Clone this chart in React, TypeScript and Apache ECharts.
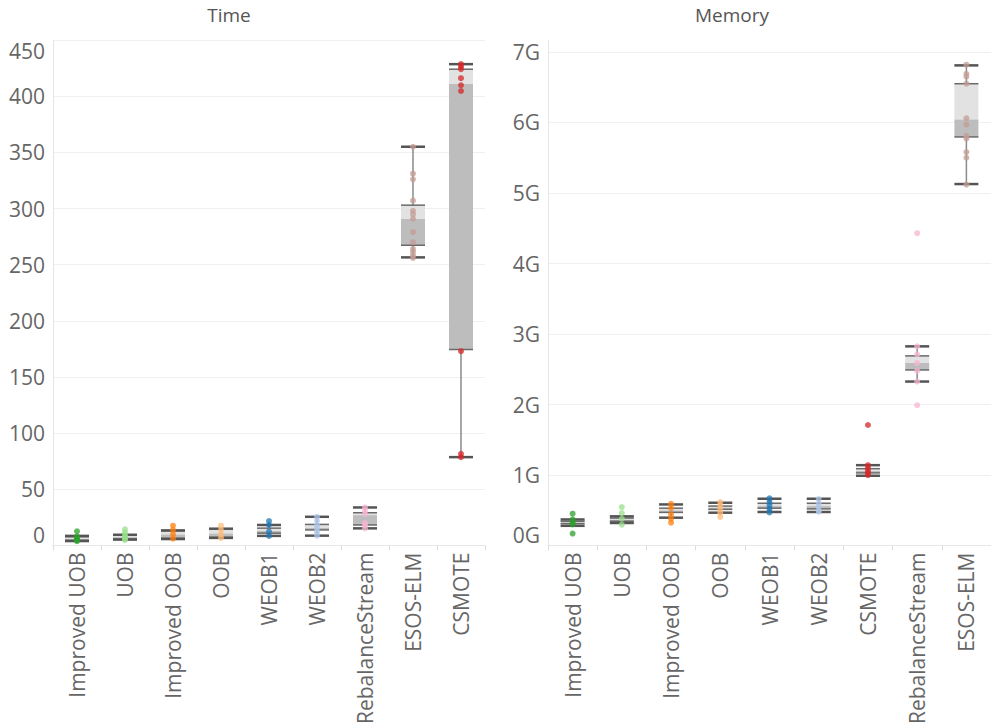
import React, { useEffect, useRef } from 'react';
import * as echarts from 'echarts';

const timeCategories = ['Improved UOB', 'UOB', 'Improved OOB', 'OOB', 'WEOB1', 'WEOB2', 'RebalanceStream', 'ESOS-ELM', 'CSMOTE'];
const memoryCategories = ['Improved UOB', 'UOB', 'Improved OOB', 'OOB', 'WEOB1', 'WEOB2', 'CSMOTE', 'RebalanceStream', 'ESOS-ELM'];

const methodColors: Record<string, string> = {
  'Improved UOB': '#2ca02c',
  'UOB': '#98df8a',
  'Improved OOB': '#ff7f0e',
  'OOB': '#ffbb78',
  'WEOB1': '#1f77b4',
  'WEOB2': '#aec7e8',
  'RebalanceStream': '#f7b6d2',
  'ESOS-ELM': '#c49c94',
  'CSMOTE': '#d62728',
};

// [min, q1, median, q3, max] per category (Time, seconds)
const timeBoxes = [
  [4.0, 4.6, 6.2, 7.8, 8.6],
  [5.3, 5.8, 7.5, 9.2, 9.6],
  [5.8, 6.5, 10.0, 13.0, 13.5],
  [6.8, 7.3, 10.9, 14.8, 15.0],
  [8.6, 11.0, 13.0, 15.5, 18.3],
  [8.8, 13.9, 16.0, 18.8, 25.6],
  [15.3, 18.3, 27.1, 29.2, 33.9],
  [256.5, 267.3, 291.0, 303.0, 355.0],
  [78.7, 174.5, 411.0, 424.0, 428.5],
];
const timePoints = [
  [12.7, 8.2, 6.5, 5.5, 4.8, 3.8],
  [14.4, 11.5, 9.0, 7.5, 6.0, 5.0],
  [17.7, 13.9, 10.0, 6.2],
  [17.7, 13.9, 10.0, 6.8],
  [21.8, 18.3, 12.4, 8.6],
  [25.6, 22.0, 18.0, 15.0, 12.0, 8.8],
  [33.9, 31.0, 28.0, 20.0, 18.0, 15.3],
  [355, 331, 326, 307, 298, 295, 291, 279, 270, 264, 261.5, 258.5, 256],
  [428.5, 426.5, 424, 416, 409.7, 404.6, 173, 81.6, 78.7],
];

// [min, q1, median, q3, max] per category (Memory, G)
const memoryBoxes = [
  [0.28, 0.31, 0.33, 0.345, 0.37],
  [0.32, 0.345, 0.37, 0.39, 0.414],
  [0.395, 0.47, 0.5, 0.53, 0.583],
  [0.466, 0.513, 0.54, 0.56, 0.607],
  [0.476, 0.53, 0.56, 0.6, 0.664],
  [0.476, 0.52, 0.56, 0.6, 0.664],
  [0.99, 1.03, 1.06, 1.09, 1.14],
  [2.326, 2.49, 2.594, 2.69, 2.825],
  [5.127, 5.795, 6.045, 6.55, 6.81],
];
const memoryPoints = [
  [0.452, 0.37, 0.33, 0.3, 0.17],
  [0.546, 0.46, 0.38, 0.297],
  [0.593, 0.53, 0.44, 0.38, 0.325],
  [0.617, 0.57, 0.52, 0.466, 0.405],
  [0.67, 0.62, 0.57, 0.52, 0.47],
  [0.66, 0.6, 0.55, 0.5, 0.48],
  [1.71, 1.14, 1.1, 1.06, 1.03, 1.0],
  [4.43, 2.825, 2.71, 2.59, 2.476, 2.326, 1.99],
  [6.82, 6.69, 6.65, 6.55, 6.06, 5.97, 5.81, 5.77, 5.58, 5.5, 5.12],
];

const FONT = '"Open Sans", sans-serif';
const LABEL = '#666';

function renderBox(params: any, api: any) {
  const idx = api.value(0);
  const pMin = api.coord([idx, api.value(1)]);
  const pQ1 = api.coord([idx, api.value(2)]);
  const pMed = api.coord([idx, api.value(3)]);
  const pQ3 = api.coord([idx, api.value(4)]);
  const pMax = api.coord([idx, api.value(5)]);
  const bw = 24;
  const half = bw / 2;
  const x = pMin[0];
  return {
    type: 'group',
    children: [
      { type: 'line', shape: { x1: x, y1: pMax[1], x2: x, y2: pMin[1] }, style: { stroke: '#8a8a8a', lineWidth: 1.5 } },
      { type: 'rect', shape: { x: x - half, y: pMed[1], width: bw, height: pQ1[1] - pMed[1] }, style: { fill: '#bdbdbd' } },
      { type: 'rect', shape: { x: x - half, y: pQ3[1], width: bw, height: pMed[1] - pQ3[1] }, style: { fill: '#e2e2e2' } },
      { type: 'line', shape: { x1: x - half, y1: pQ1[1], x2: x + half, y2: pQ1[1] }, style: { stroke: '#6a6a6a', lineWidth: 1.5 } },
      { type: 'line', shape: { x1: x - half, y1: pQ3[1], x2: x + half, y2: pQ3[1] }, style: { stroke: '#6a6a6a', lineWidth: 1.5 } },
      { type: 'line', shape: { x1: x - half, y1: pMin[1], x2: x + half, y2: pMin[1] }, style: { stroke: '#555', lineWidth: 2.5 } },
      { type: 'line', shape: { x1: x - half, y1: pMax[1], x2: x + half, y2: pMax[1] }, style: { stroke: '#555', lineWidth: 2.5 } },
    ],
  };
}

function boxData(boxes: number[][]) {
  return boxes.map((b, i) => [i, ...b]);
}

function pointData(cats: string[], pts: number[][]) {
  const out: any[] = [];
  cats.forEach((c, i) => {
    pts[i].forEach((v) => {
      out.push({ value: [i, v], itemStyle: { color: methodColors[c] } });
    });
  });
  return out;
}

function xAxisFor(cats: string[], gridIndex: number) {
  return {
    type: 'category',
    gridIndex,
    data: cats,
    axisLine: { lineStyle: { color: '#e6e6e6' } },
    axisTick: { show: true, length: 5, lineStyle: { color: '#dddddd' } },
    axisLabel: { rotate: 90, color: LABEL, fontSize: 21, fontFamily: FONT, margin: 7 },
    splitLine: { show: false },
  };
}

export default function App() {
  const ref = useRef<HTMLDivElement>(null);
  useEffect(() => {
    if (!ref.current) return;
    const chart = echarts.init(ref.current, null, { renderer: 'svg' });
    chart.setOption({
      animation: false,
      backgroundColor: '#ffffff',
      graphic: [
        { type: 'text', x: 229, y: 15, style: { text: 'Time', align: 'center', verticalAlign: 'middle', fill: '#555', font: `19px ${FONT}` } },
        { type: 'text', x: 732, y: 15, style: { text: 'Memory', align: 'center', verticalAlign: 'middle', fill: '#555', font: `19px ${FONT}` } },
      ],
      grid: [
        { left: 53, top: 40, width: 432, height: 508 },
        { left: 548, top: 40, width: 453, height: 508 },
      ],
      xAxis: [xAxisFor(timeCategories, 0), xAxisFor(memoryCategories, 1)],
      yAxis: [
        {
          type: 'value', gridIndex: 0, min: 0, max: 450, interval: 50,
          axisLine: { show: true, lineStyle: { color: '#e6e6e6' } },
          axisTick: { show: false },
          splitLine: { lineStyle: { color: '#f0f0f0' } },
          axisLabel: { color: LABEL, fontSize: 21, fontFamily: FONT, margin: 8, verticalAlignMinLabel: 'bottom', verticalAlignMaxLabel: 'top' },
        },
        {
          type: 'value', gridIndex: 1, min: 0, max: 7.17, interval: 1,
          axisLine: { show: true, lineStyle: { color: '#e6e6e6' } },
          axisTick: { show: false },
          splitLine: { lineStyle: { color: '#f0f0f0' }, showMaxLine: false },
          axisLabel: {
            color: LABEL, fontSize: 21, fontFamily: FONT, margin: 8, showMaxLabel: false,
            verticalAlignMinLabel: 'bottom',
            formatter: (v: number) => (Number.isInteger(v) ? `${v}G` : ''),
          },
        },
      ],
      series: [
        { type: 'custom', xAxisIndex: 0, yAxisIndex: 0, renderItem: renderBox, data: boxData(timeBoxes), encode: { x: 0, y: [1, 2, 3, 4, 5] }, z: 2 },
        { type: 'scatter', xAxisIndex: 0, yAxisIndex: 0, data: pointData(timeCategories, timePoints), symbolSize: 6, itemStyle: { opacity: 0.75 }, z: 3 },
        { type: 'custom', xAxisIndex: 1, yAxisIndex: 1, renderItem: renderBox, data: boxData(memoryBoxes), encode: { x: 0, y: [1, 2, 3, 4, 5] }, z: 2 },
        { type: 'scatter', xAxisIndex: 1, yAxisIndex: 1, data: pointData(memoryCategories, memoryPoints), symbolSize: 6, itemStyle: { opacity: 0.75 }, z: 3 },
      ],
    });
    return () => chart.dispose();
  }, []);
  return <div ref={ref} style={{ position: 'absolute', left: 0, top: 0, width: 991, height: 727 }} />;
}
